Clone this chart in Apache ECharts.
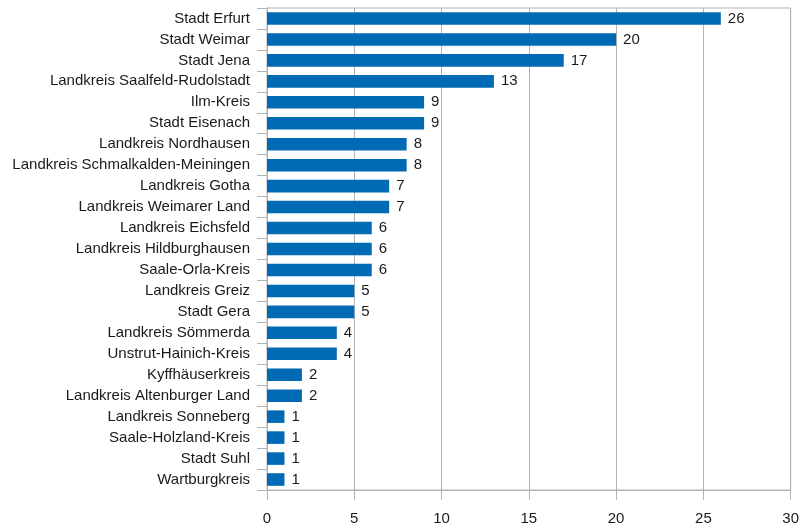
<!doctype html>
<html>
<head>
    <meta charset="utf-8">
    <title>Thüringen</title>
    <style>
        html, body { margin: 0; padding: 0; background: #fff; }
        #chart { width: 802px; height: 526px; }
    </style>
</head>
<body>
<div id="chart"></div>
<script src="https://cdn.jsdelivr.net/npm/echarts@6/dist/echarts.min.js"></script>
<script>
    // Kategorien von oben nach unten
    var regions = [
        'Stadt Erfurt', 'Stadt Weimar', 'Stadt Jena', 'Landkreis Saalfeld-Rudolstadt',
        'Ilm-Kreis', 'Stadt Eisenach', 'Landkreis Nordhausen', 'Landkreis Schmalkalden-Meiningen',
        'Landkreis Gotha', 'Landkreis Weimarer Land', 'Landkreis Eichsfeld', 'Landkreis Hildburghausen',
        'Saale-Orla-Kreis', 'Landkreis Greiz', 'Stadt Gera', 'Landkreis Sömmerda',
        'Unstrut-Hainich-Kreis', 'Kyffhäuserkreis', 'Landkreis Altenburger Land', 'Landkreis Sonneberg',
        'Saale-Holzland-Kreis', 'Stadt Suhl', 'Wartburgkreis'
    ];
    var counts = [26, 20, 17, 13, 9, 9, 8, 8, 7, 7, 6, 6, 6, 5, 5, 4, 4, 2, 2, 1, 1, 1, 1];
    var xTicks = [0, 5, 10, 15, 20, 25, 30];

    var gray = '#b3b3b3';
    var chart = echarts.init(document.getElementById('chart'));
    var option = {
        animation: false,
        textStyle: { fontFamily: 'Liberation Sans, Arial, sans-serif' },
        grid: {
            left: 267, right: 10, top: 8, bottom: 35,
            show: true, borderColor: gray, borderWidth: 1
        },
        xAxis: {
            type: 'value',
            min: xTicks[0],
            max: xTicks[xTicks.length - 1],
            interval: 5,
            axisLine: { show: true, lineStyle: { color: gray } },
            axisTick: { show: true, length: 10, lineStyle: { color: gray } },
            splitLine: { lineStyle: { color: gray } },
            axisLabel: { color: '#1a1a1a', fontSize: 15, margin: 21 }
        },
        yAxis: {
            type: 'category',
            inverse: true,
            data: regions,
            axisLine: { show: true, lineStyle: { color: gray } },
            axisTick: { show: true, length: 10, lineStyle: { color: gray } },
            axisLabel: { color: '#1a1a1a', fontSize: 15, margin: 17 }
        },
        series: [{
            type: 'bar',
            data: counts,
            barCategoryGap: '40%',
            itemStyle: { color: '#006ab4' },
            label: {
                show: true, position: 'right', distance: 7,
                color: '#1a1a1a', fontSize: 15
            }
        }]
    };
    chart.setOption(option);
</script>
</body>
</html>
